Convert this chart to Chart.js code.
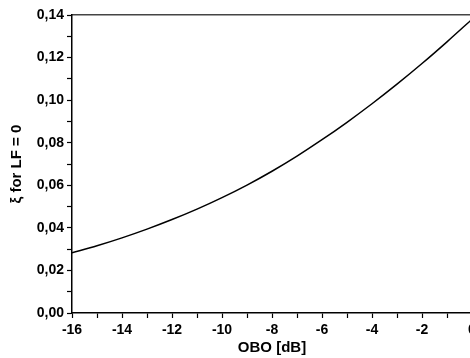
<!doctype html>
<html lang="en">
<head>
  <meta charset="utf-8">
  <style>
    html, body { margin: 0; padding: 0; background: #fff; overflow: hidden; }
    #wrap { width: 480px; height: 358px; }
  </style>
</head>
<body>
<div id="wrap"><canvas id="chart"></canvas></div>

<script src="https://cdn.jsdelivr.net/npm/chart.js@4/dist/chart.umd.min.js"></script>
<script>
  // OBO [dB] and the curve
  const obo = [-16, -15, -14, -13, -12, -11, -10, -9, -8, -7, -6, -5, -4, -3, -2, -1, 0];
  const xi = [0.0283, 0.0316, 0.0353, 0.0394, 0.0439, 0.0488, 0.0542, 0.0601, 0.0666, 0.0737, 0.0814, 0.0896, 0.0983, 0.1075, 0.1172, 0.1274, 0.1380];
  const xTicks = [-16, -14, -12, -10, -8, -6, -4, -2, 0];
  const yTicks = [0, 0.02, 0.04, 0.06, 0.08, 0.10, 0.12, 0.14];

  const font = { family: 'Liberation Sans, Arial, sans-serif', weight: 'bold', size: 14 };
  const titleFont = { family: 'Liberation Sans, Arial, sans-serif', weight: 'bold', size: 15 };

  // minor ticks between the labelled ones, label left empty
  function withMinor(major, step) {
    const out = [];
    for (let i = 0; i < major.length; i++) {
      out.push({ value: major[i] });
      if (i < major.length - 1) out.push({ value: +(major[i] + step).toFixed(4), minor: true });
    }
    return out;
  }

  new Chart(document.getElementById('chart'), {
    type: 'line',
    data: {
      datasets: [{
        data: obo.map((x, i) => ({ x: x, y: xi[i] })),
        borderColor: '#000',
        borderWidth: 1.5,
        pointRadius: 0,
        cubicInterpolationMode: 'monotone',
        fill: false
      }]
    },
    options: {
      responsive: true,
      maintainAspectRatio: false,
      animation: false,
      layout: { padding: { left: 0, right: 8, top: 0, bottom: 0 } },
      plugins: { legend: { display: false }, tooltip: { enabled: false } },
      scales: {
        x: {
          type: 'linear',
          min: -16, max: 0,
          afterBuildTicks: s => { s.ticks = withMinor(xTicks, 1); },
          afterFit: s => { s.height = 45; },
          ticks: {
            color: '#000', font: font, padding: 4, maxRotation: 0, autoSkip: false,
            callback: (v, i, t) => t[i].minor ? '' : String(v)
          },
          grid: { drawOnChartArea: false, tickLength: 5, color: '#000', tickWidth: 1.2 },
          border: { color: '#000', width: 1.5 },
          title: { display: true, text: 'OBO [dB]', color: '#000', font: titleFont, padding: { top: 0, bottom: 1 } }
        },
        x2: {
          type: 'linear',
          position: 'top',
          min: -16, max: 0,
          afterFit: s => { s.height = 15; },
          ticks: { display: false },
          grid: { display: false },
          border: { color: '#444', width: 1.5 }
        },
        y: {
          min: 0, max: 0.14,
          afterBuildTicks: s => { s.ticks = withMinor(yTicks, 0.01); },
          afterFit: s => { s.width = 72; },
          ticks: {
            color: '#000', font: font, padding: 3, autoSkip: false,
            callback: (v, i, t) => t[i].minor ? '' : v.toFixed(2).replace('.', ',')
          },
          grid: { drawOnChartArea: false, tickLength: 5, color: '#000', tickWidth: 1.2 },
          border: { color: '#000', width: 1.5 },
          title: { display: true, text: 'ξ for LF = 0', color: '#000', font: titleFont, padding: { top: 8, bottom: 0 } }
        }
      }
    }
  });
</script>
</body>
</html>
